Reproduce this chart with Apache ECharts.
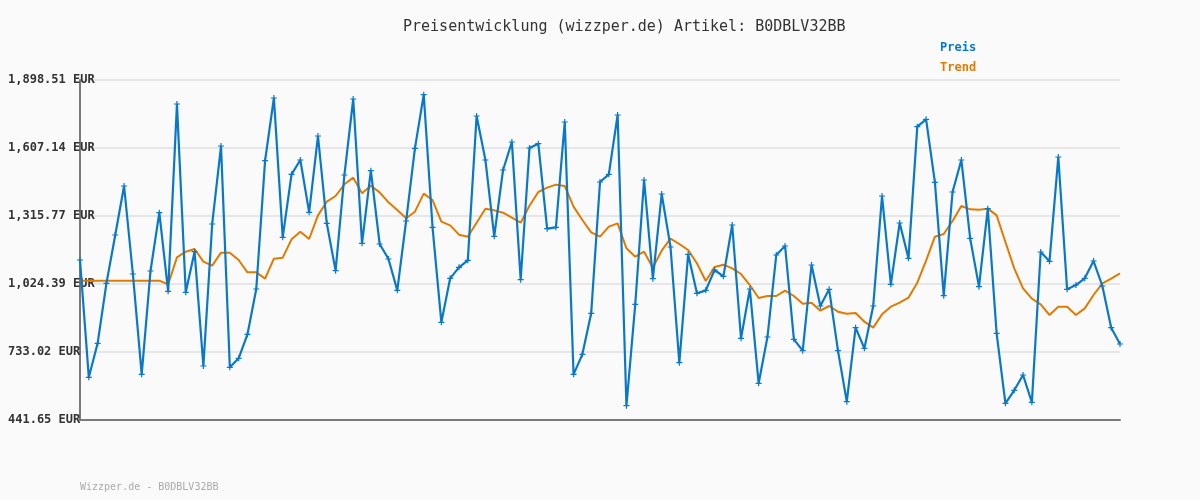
<!DOCTYPE html>
<html>
<head>
<meta charset="utf-8">
<script src="https://cdn.jsdelivr.net/npm/echarts@6/dist/echarts.min.js"></script>
<style>
html, body { margin: 0; padding: 0; background: #fafafa; }
#chart { width: 1200px; height: 500px; }
</style>
</head>
<body>
<div id="chart"></div>
<script>
var BASE = 441.65;
var STEP = 291.372;
var yTicks = ['441.65', '733.02', '1,024.39', '1,315.77', '1,607.14', '1,898.51'];

var preis = [
    1127.2, 624.5, 770.1, 1027.2, 1234.3, 1444.3, 1067.2, 637.3, 1080.1, 1330.0,
    993.0, 1795.7, 988.7, 1162.9, 673.0, 1281.5, 1615.7, 667.3, 705.9, 808.7,
    1003.0, 1552.9, 1821.4, 1224.3, 1494.3, 1555.7, 1331.5, 1658.5, 1284.3, 1081.5,
    1491.4, 1817.1, 1198.6, 1510.0, 1195.8, 1131.5, 997.2, 1294.3, 1605.7, 1835.7,
    1267.2, 860.1, 1048.7, 1095.8, 1125.8, 1744.2, 1555.7, 1228.6, 1512.9, 1632.8,
    1043.0, 1607.1, 1625.7, 1261.5, 1267.2, 1718.5, 637.3, 723.0, 898.7, 1461.4,
    1494.3, 1748.5, 503.1, 937.3, 1470.0, 1047.2, 1410.0, 1182.9, 687.3, 1151.5,
    984.4, 997.2, 1084.4, 1057.2, 1277.2, 791.6, 1003.0, 598.8, 797.3, 1148.6,
    1187.2, 787.3, 738.7, 1105.8, 930.1, 1001.5, 738.7, 520.2, 837.3, 748.7,
    930.1, 1401.5, 1023.0, 1285.8, 1134.4, 1698.5, 1730.0, 1460.0, 974.4, 1418.6,
    1555.7, 1220.1, 1013.0, 1347.2, 813.0, 513.1, 568.8, 634.5, 517.4, 1161.5,
    1121.5, 1568.6, 1001.5, 1020.1, 1048.7, 1122.9, 1015.8, 837.3, 767.3
];

var trend = [
    1038.7, 1038.7, 1038.7, 1038.7, 1038.7, 1038.7, 1038.7, 1038.7, 1038.7, 1038.7,
    1023.0, 1138.6, 1162.9, 1174.3, 1120.1, 1102.9, 1158.6, 1158.6, 1127.2, 1074.4,
    1074.4, 1047.2, 1132.9, 1137.2, 1215.8, 1248.6, 1217.2, 1318.6, 1377.0, 1401.5,
    1451.5, 1480.0, 1412.9, 1445.7, 1417.2, 1374.3, 1341.5, 1305.8, 1334.3, 1411.5,
    1384.3, 1291.5, 1275.8, 1235.8, 1227.2, 1287.2, 1347.2, 1340.0, 1330.0, 1308.6,
    1287.2, 1360.0, 1418.6, 1437.2, 1450.0, 1444.3, 1355.8, 1298.6, 1245.8, 1227.2,
    1270.0, 1284.3, 1177.2, 1141.5, 1162.9, 1094.4, 1167.2, 1218.6, 1195.8, 1170.0,
    1112.9, 1037.2, 1097.2, 1107.2, 1091.5, 1067.2, 1020.1, 964.4, 973.0, 973.0,
    995.8, 973.0, 940.1, 944.4, 910.1, 930.1, 905.8, 897.3, 900.1, 863.0,
    837.3, 894.4, 927.2, 944.4, 965.8, 1030.1, 1124.4, 1227.2, 1238.6, 1294.3,
    1358.6, 1344.3, 1342.9, 1347.2, 1318.6, 1204.3, 1091.5, 1005.8, 961.6, 937.3,
    891.6, 927.2, 927.2, 891.6, 920.1, 977.2, 1027.2, 1047.2, 1070.1
];

var categories = preis.map(function (v, i) { return String(i + 1); });

var mono = 'DejaVu Sans Mono';
var blue = '#0a78c8';
var orange = '#e07b00';

var myChart = echarts.init(document.getElementById('chart'));

var option = {
    backgroundColor: '#fafafa',
    animation: false,
    title: {
        text: 'Preisentwicklung (wizzper.de) Artikel: B0DBLV32BB',
        left: 403,
        top: 20,
        padding: 0,
        textStyle: { fontFamily: mono, fontSize: 15, fontWeight: 'normal', color: '#333' }
    },
    legend: {
        orient: 'vertical',
        left: 940,
        top: 42,
        padding: 0,
        itemWidth: 0,
        itemHeight: 12,
        itemGap: 8,
        icon: 'none',
        data: [
            { name: 'Preis', textStyle: { color: blue } },
            { name: 'Trend', textStyle: { color: orange } }
        ],
        textStyle: { fontFamily: mono, fontSize: 12, fontWeight: 'bold', padding: [0, 0, 0, -5] }
    },
    graphic: [{
        type: 'text',
        left: 80,
        top: 482,
        style: { text: 'Wizzper.de - B0DBLV32BB', fill: '#aaa', font: '10px "DejaVu Sans Mono"' }
    }],
    grid: { left: 80, right: 80, top: 80, bottom: 80 },
    xAxis: {
        type: 'category',
        data: categories,
        boundaryGap: false,
        axisLine: { lineStyle: { color: '#7a7a7a', width: 2 } },
        axisTick: { show: false },
        axisLabel: { show: false },
        splitLine: { show: false }
    },
    yAxis: {
        type: 'value',
        min: 0,
        max: STEP * 5,
        interval: STEP,
        axisLine: { show: true, lineStyle: { color: '#7a7a7a', width: 2 } },
        axisTick: { show: false },
        axisLabel: {
            align: 'left',
            margin: 72,
            fontFamily: mono,
            fontSize: 12,
            fontWeight: 'bold',
            color: '#333',
            formatter: function (v) {
                var idx = Math.round(v / STEP);
                return yTicks[idx] + ' EUR';
            }
        },
        splitLine: { lineStyle: { color: '#e6e6e6', width: 2 } }
    },
    series: [
        {
            name: 'Preis',
            type: 'line',
            data: preis.map(function (v) { return v - BASE; }),
            symbol: 'path://M2,0H3V2H5V3H3V5H2V3H0V2H2Z',
            symbolSize: 6,
            showAllSymbol: true,
            itemStyle: { color: blue },
            lineStyle: { color: blue, width: 2.2 },
            z: 3
        },
        {
            name: 'Trend',
            type: 'line',
            data: trend.map(function (v) { return v - BASE; }),
            symbol: 'none',
            itemStyle: { color: orange },
            lineStyle: { color: orange, width: 2 },
            z: 2
        }
    ]
};

myChart.setOption(option);
</script>
</body>
</html>
